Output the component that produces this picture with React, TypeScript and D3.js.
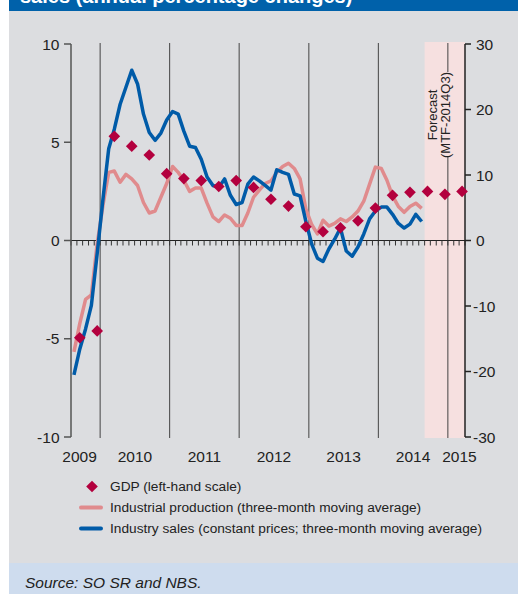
import React, { useRef, useEffect, useCallback } from 'react';
import * as d3 from 'd3';

const width = 518;
const height = 594;
const plot = { left: 71, right: 465, top: 44, bottom: 437 };

// monthly series, first value is August 2009 (annual % change, right-hand scale)
const firstMonth = '2009-08';
const industrialProduction = [
  -17.0, -12.7, -9.0, -8.3, -0.5, 5.5, 10.4, 10.6, 8.9, 10.1, 9.4, 8.4, 5.8, 4.2, 4.5, 6.6, 8.7,
  11.3, 10.4, 9.2, 7.5, 8.0, 8.0, 5.7, 3.6, 2.9, 3.9, 3.4, 2.3, 2.3, 4.2, 6.6, 7.7, 8.7, 9.1,
  10.4, 11.3, 11.8, 11.0, 9.4, 4.8, 2.4, 1.0, 3.1, 2.2, 2.6, 3.3, 2.9, 3.6, 4.5, 6.0, 8.6, 11.2,
  11.0, 9.2, 6.8, 5.2, 4.3, 5.2, 5.7, 4.9,
];
const industrySales = [
  -20.5, -16.6, -13.5, -9.9, -2.0, 6.5, 14.0, 17.0, 20.8, 23.4, 26.0, 23.9, 19.3, 16.5, 15.3, 16.4,
  18.4, 19.7, 19.3, 16.7, 14.4, 14.2, 12.4, 9.7, 8.4, 8.1, 9.4, 6.9, 5.5, 5.8, 8.6, 9.7, 9.1, 8.4,
  7.7, 10.8, 10.4, 10.1, 7.1, 6.8, 2.9, -0.6, -2.7, -3.2, -1.3, 0.2, 1.9, -1.6, -2.4, -1.0, 1.0,
  3.3, 4.5, 5.1, 5.1, 4.0, 2.6, 1.9, 2.5, 4.0, 2.9,
];

// quarterly GDP (left-hand scale)
const gdpQuarters = [
  '2009Q3', '2009Q4', '2010Q1', '2010Q2', '2010Q3', '2010Q4', '2011Q1', '2011Q2', '2011Q3',
  '2011Q4', '2012Q1', '2012Q2', '2012Q3', '2012Q4', '2013Q1', '2013Q2', '2013Q3', '2013Q4',
  '2014Q1', '2014Q2', '2014Q3', '2014Q4', '2015Q1',
];
const gdp = [
  -4.95, -4.6, 5.3, 4.8, 4.35, 3.4, 3.15, 3.05, 2.75, 3.05, 2.7, 2.1, 1.75, 0.7, 0.45, 0.65, 1.0,
  1.65, 2.3, 2.45, 2.5, 2.35, 2.5,
];

const years = ['2009', '2010', '2011', '2012', '2013', '2014', '2015'];
const leftTicks = [-10, -5, 0, 5, 10];
const rightTicks = [-30, -20, -10, 0, 10, 20, 30];
const forecastStart = '2014-09';
const domainEnd = '2015-04';

const legendItems = [
  'GDP (left-hand scale)',
  'Industrial production (three-month moving average)',
  'Industry sales (constant prices; three-month moving average)',
];

const colors = {
  title: '#0061aa',
  panel: '#dcdde0',
  source: '#cedcee',
  forecast: '#f6e0e0',
  pink: '#e08b8d',
  blue: '#005ba8',
  gdp: '#b3003e',
  text: '#222',
};

const tickFont = "'Liberation Sans Narrow', 'Liberation Sans', Arial, sans-serif";
const textFont = "'Liberation Sans', Arial, sans-serif";

const parseMonth = d3.utcParse('%Y-%m');
const midMonth = (d: Date) => new Date((+d + +d3.utcMonth.offset(d, 1)) / 2);

const App: React.FC = () => {
  const chartRef = useRef<SVGSVGElement>(null);

  const draw = useCallback(() => {
    const svg = d3.select(chartRef.current);
    svg.selectAll('*').remove();

    const start = parseMonth(firstMonth) as Date;
    const x = d3
      .scaleUtc()
      .domain([start, parseMonth(domainEnd) as Date])
      .range([plot.left, plot.right]);
    const yL = d3.scaleLinear().domain([-10, 10]).range([plot.bottom, plot.top]);
    const yR = d3.scaleLinear().domain([-30, 30]).range([plot.bottom, plot.top]);

    // panels
    svg.append('rect').attr('x', 9).attr('y', 0).attr('width', width - 9).attr('height', 11).attr('fill', colors.title);
    svg
      .append('text')
      .attr('x', 20)
      .attr('y', 3)
      .attr('fill', '#fff')
      .attr('font-family', textFont)
      .attr('font-weight', 'bold')
      .attr('font-size', 20)
      .text('sales (annual percentage changes)');
    svg.append('rect').attr('x', 9).attr('y', 11).attr('width', width - 9).attr('height', 552).attr('fill', colors.panel);
    svg.append('rect').attr('x', 9).attr('y', 563).attr('width', width - 9).attr('height', 31).attr('fill', colors.source);

    // forecast band
    const fx = x(parseMonth(forecastStart) as Date);
    svg
      .append('rect')
      .attr('x', fx)
      .attr('y', plot.top - 2)
      .attr('width', plot.right - fx)
      .attr('height', plot.bottom - plot.top + 3)
      .attr('fill', colors.forecast);

    // year separators
    const yearStarts = x.ticks(d3.utcYear).filter((d) => x(d) > plot.left + 1);
    const lastYear = yearStarts[yearStarts.length - 1];
    yearStarts.forEach((d) => {
      const segs: [number, number][] =
        d === lastYear
          ? [
              [plot.top - 1, 72],
              [157, plot.bottom + 1],
            ]
          : [[plot.top - 1, plot.bottom + 1]];
      segs.forEach(([a, b]) =>
        svg
          .append('line')
          .attr('x1', x(d))
          .attr('x2', x(d))
          .attr('y1', a)
          .attr('y2', b)
          .attr('stroke', '#444')
          .attr('stroke-width', 1),
      );
    });

    // forecast label
    const fText = svg
      .append('g')
      .attr('font-family', tickFont)
      .attr('font-size', 13)
      .attr('fill', colors.text)
      .attr('text-anchor', 'middle');
    fText.append('text').attr('transform', 'translate(437,115) rotate(-90)').text('Forecast');
    fText.append('text').attr('transform', 'translate(450,115) rotate(-90)').text('(MTF-2014Q3)');

    // zero line with monthly ticks
    const y0 = yL(0);
    svg
      .append('line')
      .attr('x1', plot.left)
      .attr('x2', plot.right)
      .attr('y1', y0)
      .attr('y2', y0)
      .attr('stroke', '#222')
      .attr('stroke-width', 1.2);
    svg
      .append('g')
      .selectAll('line')
      .data(x.ticks(d3.utcMonth))
      .join('line')
      .attr('x1', (d) => x(d))
      .attr('x2', (d) => x(d))
      .attr('y1', y0)
      .attr('y2', y0 + 5)
      .attr('stroke', '#333')
      .attr('stroke-width', 1);

    // left axis
    const la = svg.append('g');
    la.append('line')
      .attr('x1', plot.left)
      .attr('x2', plot.left)
      .attr('y1', plot.top)
      .attr('y2', plot.bottom)
      .attr('stroke', '#555')
      .attr('stroke-width', 1.5);
    la.selectAll('line.t')
      .data(leftTicks)
      .join('line')
      .attr('class', 't')
      .attr('x1', plot.left - 7)
      .attr('x2', plot.left)
      .attr('y1', (d) => yL(d))
      .attr('y2', (d) => yL(d))
      .attr('stroke', '#555')
      .attr('stroke-width', 1.5);
    la.selectAll('text')
      .data(leftTicks)
      .join('text')
      .attr('x', 59.5)
      .attr('y', (d) => yL(d))
      .attr('dy', '0.36em')
      .attr('text-anchor', 'end')
      .attr('font-family', tickFont)
      .attr('font-size', 15.5)
      .attr('fill', colors.text)
      .text((d) => String(d));

    // right axis
    const ra = svg.append('g');
    ra.append('line')
      .attr('x1', plot.right)
      .attr('x2', plot.right)
      .attr('y1', plot.top)
      .attr('y2', plot.bottom)
      .attr('stroke', '#222')
      .attr('stroke-width', 1.5);
    ra.selectAll('line.t')
      .data(rightTicks)
      .join('line')
      .attr('class', 't')
      .attr('x1', plot.right)
      .attr('x2', plot.right + 6)
      .attr('y1', (d) => yR(d))
      .attr('y2', (d) => yR(d))
      .attr('stroke', '#222')
      .attr('stroke-width', 1.5);
    ra.selectAll('text')
      .data(rightTicks)
      .join('text')
      .attr('x', (d) => (d < 0 ? 473 : 476))
      .attr('y', (d) => yR(d))
      .attr('dy', '0.36em')
      .attr('font-family', tickFont)
      .attr('font-size', 15.5)
      .attr('fill', colors.text)
      .text((d) => String(d));

    // year labels, centred on the visible part of each year
    svg
      .append('g')
      .selectAll('text')
      .data(years)
      .join('text')
      .attr('x', (d, i) => {
        const a = Math.max(x(Date.UTC(+d, 0, 1)), plot.left);
        const b = Math.min(x(Date.UTC(+d + 1, 0, 1)), plot.right);
        const nudge = i === 0 ? -6 : i === years.length - 1 ? 3 : 0;
        return (a + b) / 2 + nudge;
      })
      .attr('y', 462)
      .attr('text-anchor', 'middle')
      .attr('font-family', tickFont)
      .attr('font-size', 15.5)
      .attr('fill', colors.text)
      .text((d) => d);

    // series
    const monthly = (vals: number[]) =>
      vals.map((v, i) => ({ date: midMonth(d3.utcMonth.offset(start, i)), v }));
    const line = d3
      .line<{ date: Date; v: number }>()
      .x((d) => x(d.date))
      .y((d) => yR(d.v));

    svg
      .append('path')
      .datum(monthly(industrialProduction))
      .attr('d', line)
      .attr('fill', 'none')
      .attr('stroke', colors.pink)
      .attr('stroke-width', 3.5)
      .attr('stroke-linejoin', 'round');
    svg
      .append('path')
      .datum(monthly(industrySales))
      .attr('d', line)
      .attr('fill', 'none')
      .attr('stroke', colors.blue)
      .attr('stroke-width', 3.5)
      .attr('stroke-linejoin', 'round');

    const quarterDate = (q: string) => {
      const yr = +q.slice(0, 4);
      const qq = +q.slice(5);
      return midMonth(new Date(Date.UTC(yr, qq * 3 - 1, 1)));
    };
    const diamond = d3.symbol(d3.symbolSquare, 68);
    svg
      .append('g')
      .selectAll('path')
      .data(gdp)
      .join('path')
      .attr('d', diamond)
      .attr('transform', (d, i) => `translate(${x(quarterDate(gdpQuarters[i]))},${yL(d)}) rotate(45)`)
      .attr('fill', colors.gdp);

    // legend
    const lg = svg
      .append('g')
      .attr('font-family', textFont)
      .attr('font-size', 13.7)
      .attr('fill', colors.text);
    legendItems.forEach((label, i) => {
      const cy = 486.5 + i * 21;
      if (i === 0) {
        lg.append('path').attr('d', diamond).attr('transform', `translate(92,${cy}) rotate(45)`).attr('fill', colors.gdp);
      } else {
        lg.append('line')
          .attr('x1', 81)
          .attr('x2', 101)
          .attr('y1', cy)
          .attr('y2', cy)
          .attr('stroke', i === 1 ? colors.pink : colors.blue)
          .attr('stroke-width', 4)
          .attr('stroke-linecap', 'round');
      }
      lg.append('text').attr('x', 110).attr('y', cy + 4.8).text(label);
    });

    // source
    svg
      .append('text')
      .attr('x', 25)
      .attr('y', 588)
      .attr('font-family', textFont)
      .attr('font-style', 'italic')
      .attr('font-size', 15.5)
      .attr('fill', colors.text)
      .text('Source: SO SR and NBS.');
  }, []);

  useEffect(() => {
    draw();
  }, [draw]);

  return (
    <svg
      ref={chartRef}
      width={width}
      height={height}
      style={{ position: 'absolute', left: 0, top: 0, display: 'block' }}
    />
  );
};

export default App;
